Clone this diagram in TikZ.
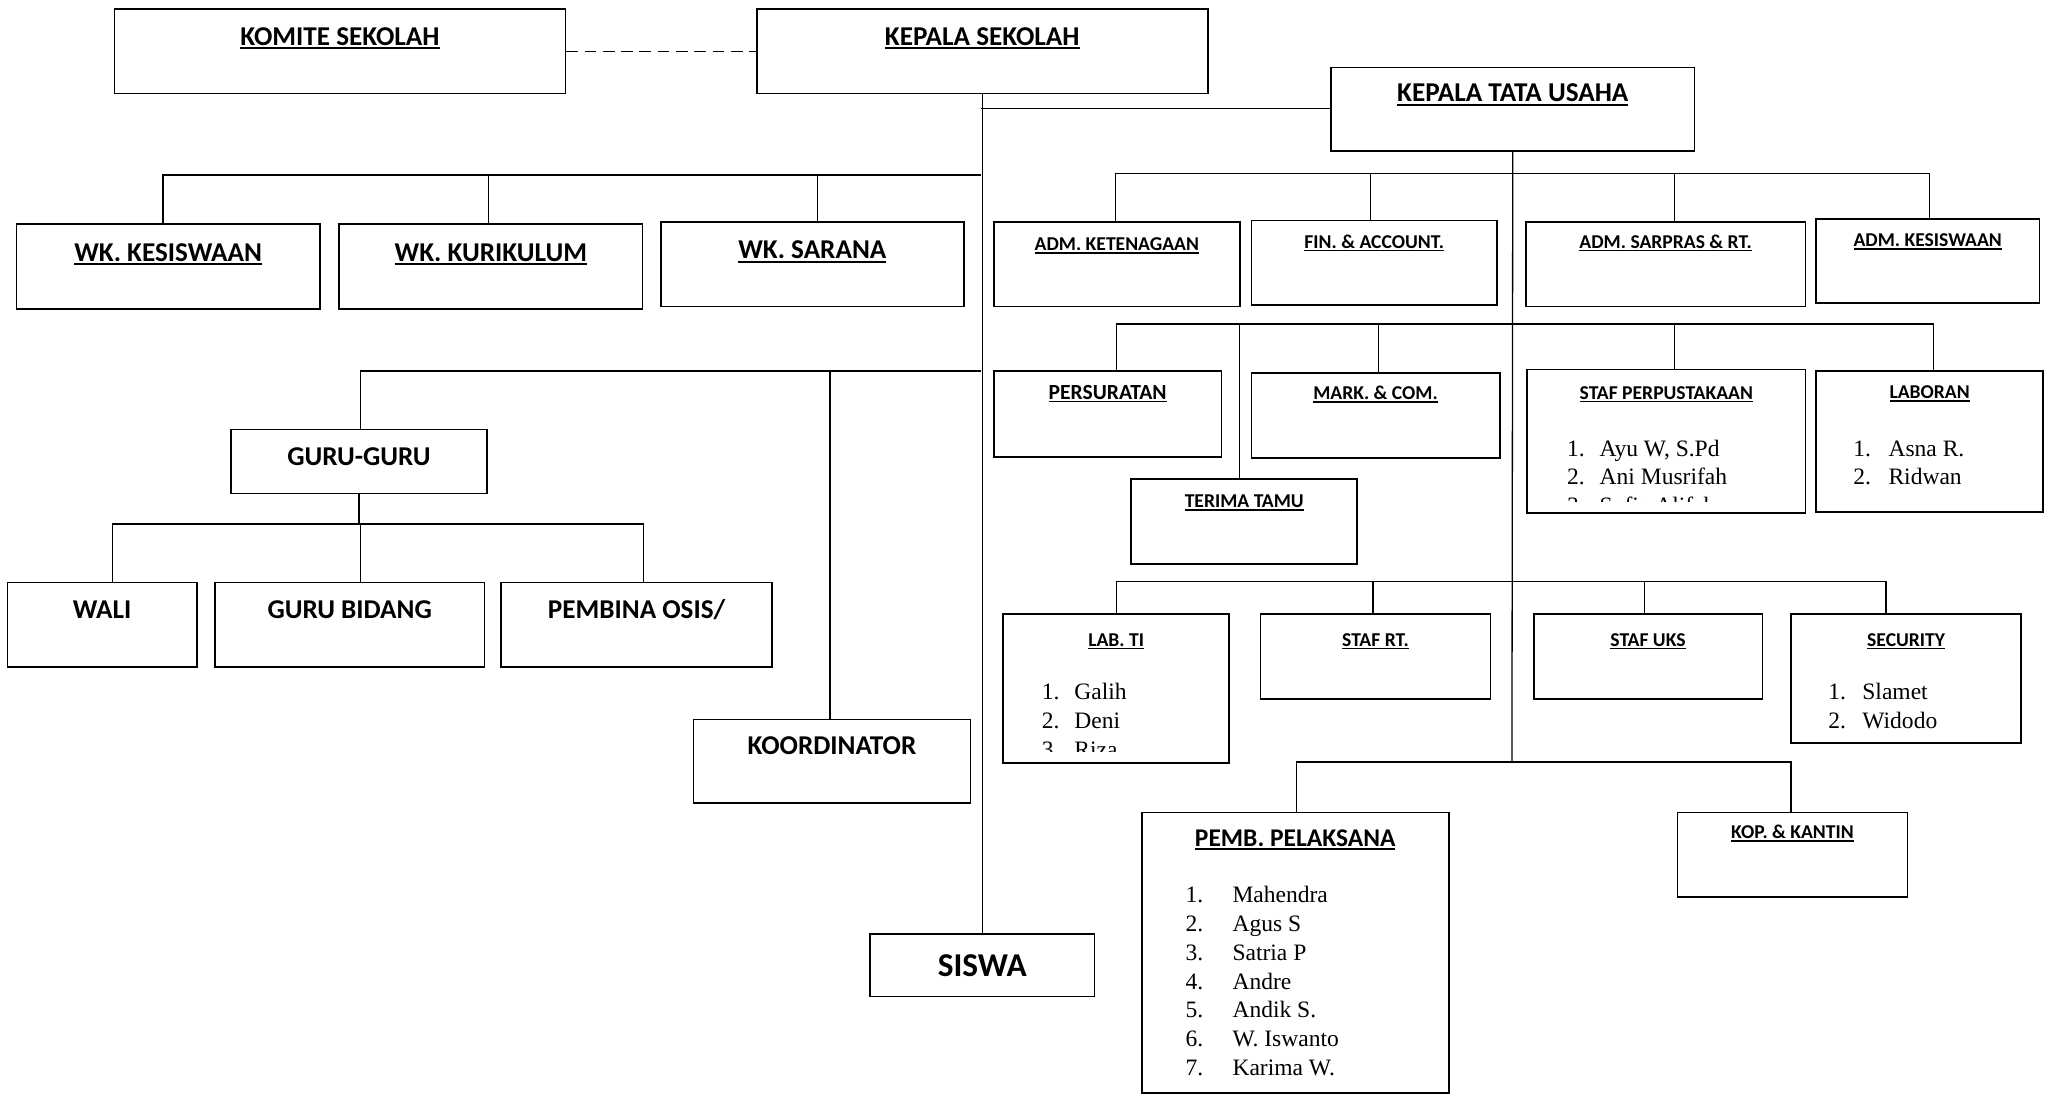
\documentclass[tikz,border=0pt]{standalone}
\usepackage{fontspec}
\setmainfont{Carlito}
\newfontfamily\listfont{Liberation Serif}

\newcommand{\ulined}[1]{\setbox0=\hbox{#1}\rlap{\rule[-0.15em]{\wd0}{0.075em}}\box0}
\newcommand{\listno}[2]{\makebox[#1][l]{#2}}

\tikzset{
  unit/.style={draw, line width=1.3pt, anchor=north west, inner sep=0pt},
  link/.style={line width=1pt},
  head/.style={anchor=base, inner sep=0pt, font=\bfseries\fontsize{20.8}{24}\selectfont},
  headsmall/.style={anchor=base, inner sep=0pt, font=\bfseries\fontsize{15}{18}\selectfont},
  namelist/.style={anchor=base west, inner sep=0pt, font=\listfont\fontsize{18}{22}\selectfont},
}

\begin{document}
\begin{tikzpicture}[x=1pt, y=-1pt]
\useasboundingbox (0,0) rectangle (1568,838);

% pimpinan
\node[unit, minimum width=345pt, minimum height=65pt] (komite) at (87,6) {};
\node[unit, minimum width=345pt, minimum height=65pt] (kepsek) at (578.5,6) {};
\node[unit, minimum width=278pt, minimum height=64pt] (tu) at (1018,51) {};
\node[head] (komite-t) at (komite.north |- 0,34.5) {\ulined{KOMITE SEKOLAH}};
\node[head] (kepsek-t) at (kepsek.north |- 0,34.5) {\ulined{KEPALA SEKOLAH}};
\node[head] (tu-t) at (tu.north |- 0,78) {\ulined{KEPALA TATA USAHA}};

% wakil kepala
\node[unit, minimum width=232pt, minimum height=65pt] (wkkes) at (12,171) {};
\node[unit, minimum width=232pt, minimum height=65pt] (wkkur) at (259,171) {};
\node[unit, minimum width=232pt, minimum height=65pt] (wksar) at (505,169) {};
\node[head] (wkkes-t) at (wkkes.north |- 0,200) {\ulined{WK. KESISWAAN}};
\node[head] (wkkur-t) at (wkkur.north |- 0,200) {\ulined{WK. KURIKULUM}};
\node[head] (wksar-t) at (wksar.north |- 0,198) {\ulined{WK. SARANA}};

% guru
\node[unit, minimum width=196pt, minimum height=49pt] (guru) at (176,328) {};
\node[unit, minimum width=145pt, minimum height=65pt] (wali) at (5,445) {};
\node[unit, minimum width=206pt, minimum height=65pt] (bidang) at (164,445) {};
\node[unit, minimum width=207pt, minimum height=65pt] (pembina) at (383,445) {};
\node[unit, minimum width=212pt, minimum height=64pt] (koord) at (530,550) {};
\node[unit, minimum width=172pt, minimum height=48pt] (siswa) at (665,714) {};
\node[head] (guru-t) at (guru.north |- 0,356) {GURU-GURU};
\node[head] (wali-t) at (wali.north |- 0,473.5) {WALI};
\node[head] (bidang-t) at (bidang.north |- 0,473.5) {GURU BIDANG};
\node[head] (pembina-t) at (pembina.north |- 0,473.5) {PEMBINA OSIS/};
\node[head] (koord-t) at (koord.north |- 0,577.5) {KOORDINATOR};
\node[head, font=\bfseries\fontsize{25.5}{28}\selectfont] (siswa-t) at (siswa.north |- 0,747.5) {SISWA};

% tata usaha baris 1
\node[unit, minimum width=188pt, minimum height=65pt] (ket) at (760,169) {};
\node[unit, minimum width=188pt, minimum height=65pt] (fin) at (957,168) {};
\node[unit, minimum width=214pt, minimum height=65pt] (sarpras) at (1167,169) {};
\node[unit, minimum width=171pt, minimum height=64pt] (admkes) at (1389,167) {};
\node[headsmall] (ket-t) at (ket.north |- 0,192) {\ulined{ADM. KETENAGAAN}};
\node[headsmall] (fin-t) at (fin.north |- 0,190) {\ulined{FIN. \& ACCOUNT.}};
\node[headsmall] (sarpras-t) at (sarpras.north |- 0,190) {\ulined{ADM. SARPRAS \& RT.}};
\node[headsmall] (admkes-t) at (admkes.north |- 0,189) {\ulined{ADM. KESISWAAN}};

% tata usaha baris 2
\node[unit, minimum width=174pt, minimum height=66pt] (persurat) at (760,283) {};
\node[unit, minimum width=190pt, minimum height=65pt] (mark) at (957,285) {};
\node[unit, minimum width=173pt, minimum height=65pt] (terima) at (865,366) {};
\node[unit, minimum width=213pt, minimum height=110pt] (perp) at (1168,282) {};
\node[unit, minimum width=174pt, minimum height=108pt] (laboran) at (1389,283) {};
\node[headsmall, font=\bfseries\fontsize{16.5}{19}\selectfont] (persurat-t) at (persurat.north |- 0,305.5) {\ulined{PERSURATAN}};
\node[headsmall] (mark-t) at (mark.north |- 0,306) {\ulined{MARK. \& COM.}};
\node[headsmall] (terima-t) at (terima.north |- 0,388.5) {\ulined{TERIMA TAMU}};
\node[headsmall] (perp-t) at (perp.north |- 0,305.5) {\ulined{STAF PERPUSTAKAAN}};
\node[headsmall] (laboran-t) at (laboran.north |- 0,305) {\ulined{LABORAN}};
\begin{scope}
\clip (perp.north west) rectangle (perp.east |- 0,384);
\node[namelist] (perp-n) at (1199,349) {\begin{tabular}[t]{@{}l@{}}
\listno{25pt}{1.}Ayu W, S.Pd\\ \listno{25pt}{2.}Ani Musrifah\\ \listno{25pt}{3.}Sofia Alifah
\end{tabular}};
\end{scope}
\node[namelist] (laboran-n) at (1418,349) {\begin{tabular}[t]{@{}l@{}}
\listno{27pt}{1.}Asna R.\\ \listno{27pt}{2.}Ridwan
\end{tabular}};

% tata usaha baris 3
\node[unit, minimum width=173pt, minimum height=114pt] (labti) at (767,469) {};
\node[unit, minimum width=176pt, minimum height=65pt] (stafrt) at (964,469) {};
\node[unit, minimum width=175pt, minimum height=65pt] (uks) at (1173,469) {};
\node[unit, minimum width=176pt, minimum height=99pt] (security) at (1370,469) {};
\node[headsmall] (labti-t) at (labti.north |- 0,494.5) {\ulined{LAB. TI}};
\node[headsmall] (stafrt-t) at (stafrt.north |- 0,494.5) {\ulined{STAF RT.}};
\node[headsmall] (uks-t) at (uks.north |- 0,494.5) {\ulined{STAF UKS}};
\node[headsmall] (security-t) at (security.north |- 0,494.5) {\ulined{SECURITY}};
\begin{scope}
\clip (labti.north west) rectangle (labti.east |- 0,575);
\node[namelist] (labti-n) at (797,535.5) {\begin{tabular}[t]{@{}l@{}}
\listno{25pt}{1.}Galih\\ \listno{25pt}{2.}Deni\\ \listno{25pt}{3.}Riza
\end{tabular}};
\end{scope}
\node[namelist] (security-n) at (1399,535.5) {\begin{tabular}[t]{@{}l@{}}
\listno{26pt}{1.}Slamet\\ \listno{26pt}{2.}Widodo
\end{tabular}};

% tata usaha baris 4
\node[unit, minimum width=235pt, minimum height=215pt] (pemb) at (873,621) {};
\node[unit, minimum width=176pt, minimum height=65pt] (kop) at (1283,621) {};
\node[headsmall, font=\bfseries\fontsize{19.5}{23}\selectfont] (pemb-t) at (pemb.north |- 0,647.5) {\ulined{PEMB. PELAKSANA}};
\node[headsmall] (kop-t) at (kop.north |- 0,642) {\ulined{KOP. \& KANTIN}};
\node[namelist] (pemb-n) at (907,691) {\begin{tabular}[t]{@{}l@{}}
\listno{36pt}{1.}Mahendra\\ \listno{36pt}{2.}Agus S\\ \listno{36pt}{3.}Satria P\\
\listno{36pt}{4.}Andre\\ \listno{36pt}{5.}Andik S.\\ \listno{36pt}{6.}W. Iswanto\\
\listno{36pt}{7.}Karima W.
\end{tabular}};

% garis
\coordinate (j1) at (751,83);
\coordinate (j2) at (751,134);
\coordinate (j6) at (751,284);
\coordinate (j3) at (1157,133);
\coordinate (j4) at (1157,248);
\coordinate (j7) at (1157,445);
\coordinate (j5) at (1157,583);
\coordinate (g1) at (guru.south |- 0,401);

\draw[link, dash pattern=on 9pt off 5pt] (komite.east) -- (kepsek.west);
\draw[link] (kepsek.south) -- (siswa.north);
\draw[link] (j1) -- (j1 -| tu.west);
\draw[link] (tu.south) -- (j5);

\draw[link] ([xshift=-4pt]wkkes.north) |- (j2);
\draw[link] ([xshift=-2pt]wkkur.north) |- (j2);
\draw[link] ([xshift=4pt]wksar.north) |- (j2);

\draw[link] ([xshift=1pt]guru.north) |- (j6);
\draw[link] ([xshift=-1.5pt]koord.north) |- (j6);
\draw[link] (guru.south) -- (g1);
\draw[link] ([xshift=8pt]wali.north) |- (g1);
\draw[link] ([xshift=8pt]bidang.north) |- (g1);
\draw[link] ([xshift=5.5pt]pembina.north) |- (g1);

\draw[link] ([xshift=-1pt]ket.north) |- (j3);
\draw[link] ([xshift=-3pt]fin.north) |- (j3);
\draw[link] ([xshift=7pt]sarpras.north) |- (j3);
\draw[link] ([xshift=1.5pt]admkes.north) |- (j3);

\draw[link] ([xshift=7pt]persurat.north) |- (j4);
\draw[link] ([xshift=-3.5pt]terima.north) |- (j4);
\draw[link] ([xshift=2pt]mark.north) |- (j4);
\draw[link] ([xshift=6pt]perp.north) |- (j4);
\draw[link] ([xshift=3pt]laboran.north) |- (j4);

\draw[link] (labti.north) |- (j7);
\draw[link] ([xshift=-2pt]stafrt.north) |- (j7);
\draw[link] ([xshift=-2.5pt]uks.north) |- (j7);
\draw[link] ([xshift=-15.5pt]security.north) |- (j7);

\draw[link] ([xshift=1pt]pemb.north) |- (j5);
\draw[link] ([xshift=-1pt]kop.north) |- (j5);
\end{tikzpicture}
\end{document}
